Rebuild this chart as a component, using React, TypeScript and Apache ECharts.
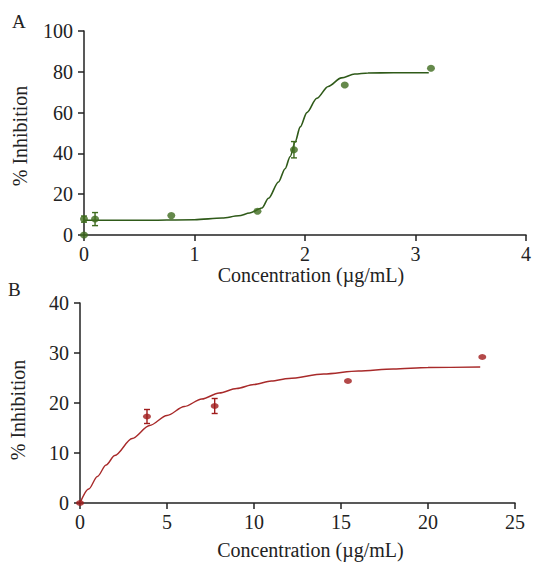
import React, { useEffect, useRef } from "react";
import * as echarts from "echarts";

// Panel A: measured points [concentration, % inhibition]
const pointsA: number[][] = [
  [0.0, 0.0],
  [0.0, 7.8],
  [0.1, 7.8],
  [0.79, 9.5],
  [1.57, 11.6],
  [1.9, 41.8],
  [2.36, 73.5],
  [3.14, 81.7],
];
// Panel A error bars [x, y, err]
const errorsA: number[][] = [
  [0.0, 7.8, 1.5],
  [0.1, 7.8, 3.2],
  [1.9, 41.8, 4.0],
];
// Panel A fitted curve
const curveA: number[][] = [
  [0.0, 7.2], [0.5, 7.2], [1.0, 7.5], [1.25, 8.3], [1.4, 9.4], [1.5, 10.8],
  [1.61, 13.2], [1.67, 18.0], [1.76, 26.0], [1.82, 32.5], [1.866, 38.5],
  [1.91, 45.5], [1.957, 53.0], [2.017, 60.0], [2.107, 67.0], [2.21, 72.8],
  [2.33, 77.0], [2.45, 78.9], [2.57, 79.4], [2.8, 79.5], [3.12, 79.5],
];

// Panel B
const pointsB: number[][] = [
  [0.0, 0.0],
  [3.85, 17.3],
  [7.74, 19.4],
  [15.4, 24.4],
  [23.12, 29.2],
];
const errorsB: number[][] = [
  [3.85, 17.3, 1.4],
  [7.74, 19.4, 1.5],
];
const curveB: number[][] = [
  [0, 0], [0.5, 2.8], [1, 5.3], [1.5, 7.6], [2, 9.5], [3, 12.9], [4, 15.5],
  [5, 17.5], [6, 19.3], [7, 20.8], [8, 22.0], [9, 22.9], [10, 23.7], [11, 24.4],
  [12, 24.9], [14, 25.8], [16, 26.4], [18, 26.8], [20, 27.1], [23, 27.2],
];

const xTicksA = { min: 0, max: 4, interval: 1 };
const yTicksA = { min: 0, max: 100, interval: 20 };
const xTicksB = { min: 0, max: 25, interval: 5 };
const yTicksB = { min: 0, max: 40, interval: 10 };

const FONT = "Liberation Serif";
const INK = "#222";
const GREEN_PT = "#3e6b1e";
const GREEN_LN = "#2f5a19";
const RED_PT = "#a01c1c";
const RED_LN = "#a82a2a";

function errRender(color: string) {
  return (params: any, api: any) => {
    const x = api.value(0);
    const y = api.value(1);
    const e = api.value(2);
    const top = api.coord([x, y + e]);
    const bot = api.coord([x, y - e]);
    const w = 3;
    const style = { stroke: color, lineWidth: 1.4 };
    return {
      type: "group",
      children: [
        { type: "line", shape: { x1: top[0], y1: top[1], x2: bot[0], y2: bot[1] }, style },
        { type: "line", shape: { x1: top[0] - w, y1: top[1], x2: top[0] + w, y2: top[1] }, style },
        { type: "line", shape: { x1: bot[0] - w, y1: bot[1], x2: bot[0] + w, y2: bot[1] }, style },
      ],
    };
  };
}

function axisCommon(
  name: string,
  t: { min: number; max: number; interval: number },
  isY: boolean,
  gap: number,
  namePad: number[]
) {
  return {
    type: "value",
    min: t.min,
    max: t.max,
    interval: t.interval,
    name,
    nameLocation: "middle",
    nameGap: gap,
    nameTextStyle: { fontFamily: FONT, fontSize: 20, color: INK, padding: namePad },
    axisLine: { show: true, onZero: false, lineStyle: { color: INK, width: 1.5 } },
    axisTick: { show: true, length: 6, lineStyle: { color: INK, width: 1.5 } },
    axisLabel: { fontFamily: FONT, fontSize: 20, color: INK, margin: isY ? 11 : 9 },
    splitLine: { show: false },
  };
}

export default function App() {
  const ref = useRef<HTMLDivElement>(null);
  useEffect(() => {
    if (!ref.current) return;
    const chart = echarts.init(ref.current, undefined, { renderer: "svg" });
    chart.setOption({
      animation: false,
      backgroundColor: "#fff",
      grid: [
        { left: 84, right: 6, top: 31, height: 204 },
        { left: 80, right: 19, top: 303, height: 200 },
      ],
      xAxis: [
        { ...axisCommon("Concentration (µg/mL)", xTicksA, false, 26, [0, 0, 0, 12]), gridIndex: 0 },
        { ...axisCommon("Concentration (µg/mL)", xTicksB, false, 37, [0, 0, 0, 26]), gridIndex: 1 },
      ],
      yAxis: [
        { ...axisCommon("% Inhibition", yTicksA, true, 54, [0, 6, 0, 0]), gridIndex: 0 },
        { ...axisCommon("% Inhibition", yTicksB, true, 52, [0, 14, 0, 0]), gridIndex: 1 },
      ],
      graphic: [
        { type: "text", left: 12, top: 12, style: { text: "A", font: `19px "${FONT}"`, fill: INK } },
        { type: "text", left: 8, top: 280, style: { text: "B", font: `19px "${FONT}"`, fill: INK } },
      ],
      series: [
        {
          type: "line", xAxisIndex: 0, yAxisIndex: 0, data: curveA, showSymbol: false,
          smooth: 0.3, smoothMonotone: "x", lineStyle: { color: GREEN_LN, width: 1.6 }, z: 2,
        },
        {
          type: "custom", xAxisIndex: 0, yAxisIndex: 0, data: errorsA,
          renderItem: errRender(GREEN_PT), encode: { x: 0, y: 1 }, z: 3,
        },
        {
          type: "scatter", xAxisIndex: 0, yAxisIndex: 0, data: pointsA,
          symbol: "circle", symbolSize: [8, 7], itemStyle: { color: GREEN_PT }, z: 4,
        },
        {
          type: "line", xAxisIndex: 1, yAxisIndex: 1, data: curveB, showSymbol: false,
          smooth: 0.3, smoothMonotone: "x", lineStyle: { color: RED_LN, width: 1.4 }, z: 2,
        },
        {
          type: "custom", xAxisIndex: 1, yAxisIndex: 1, data: errorsB,
          renderItem: errRender(RED_PT), encode: { x: 0, y: 1 }, z: 3,
        },
        {
          type: "scatter", xAxisIndex: 1, yAxisIndex: 1, data: pointsB,
          symbol: "circle", symbolSize: [8, 6], itemStyle: { color: RED_PT }, z: 4,
        },
      ],
    });
    return () => chart.dispose();
  }, []);
  return (
    <div
      ref={ref}
      style={{ position: "fixed", left: 0, top: 0, width: 534, height: 562, background: "#fff" }}
    />
  );
}
